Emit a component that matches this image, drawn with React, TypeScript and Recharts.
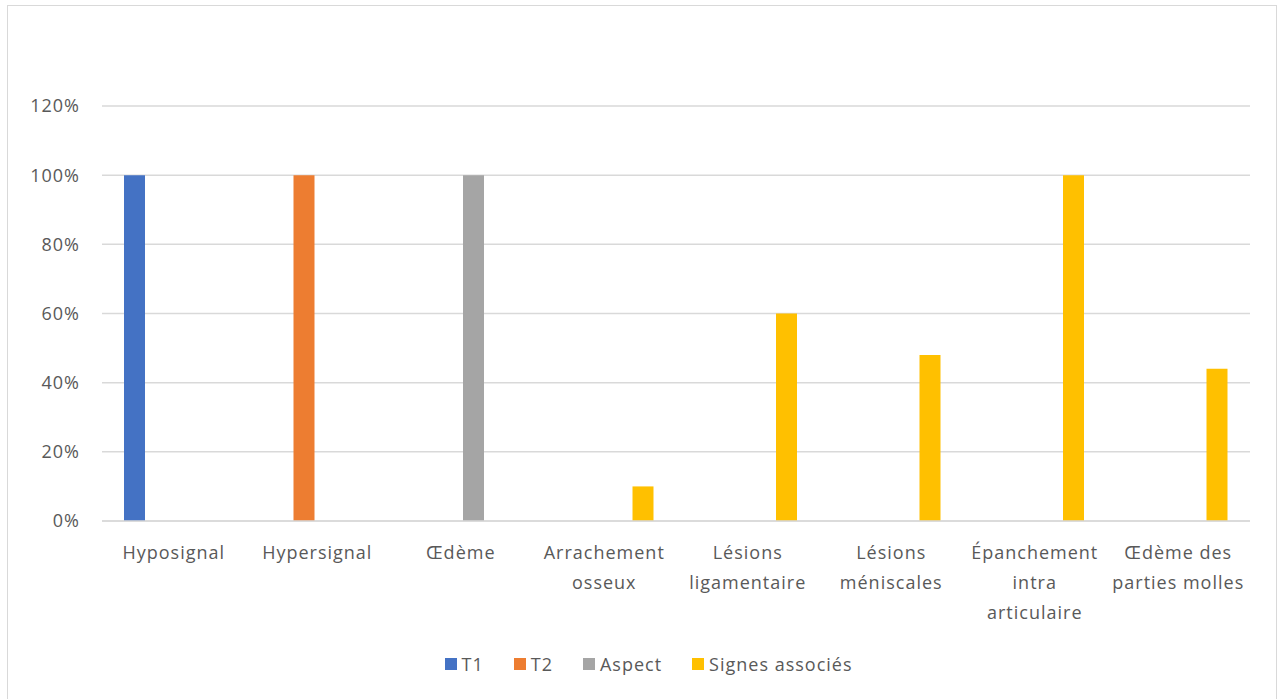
import { BarChart, Bar, XAxis, YAxis, CartesianGrid, Legend } from "recharts";

// Catégories (retour à la ligne = "\n")
const categories = [
  "Hyposignal",
  "Hypersignal",
  "Œdème",
  "Arrachement\nosseux",
  "Lésions\nligamentaire",
  "Lésions\nméniscales",
  "Épanchement\nintra\narticulaire",
  "Œdème des\nparties molles",
];

// Pourcentages par série (null = pas de barre)
const t1 = [100, null, null, null, null, null, null, null];
const t2 = [null, 100, null, null, null, null, null, null];
const aspect = [null, null, 100, null, null, null, null, null];
const signesAssocies = [null, null, null, 10, 60, 48, 100, 44];

const yTicks = [0, 20, 40, 60, 80, 100, 120];

const series = [
  { key: "t1", name: "T1", color: "#4472C4" },
  { key: "t2", name: "T2", color: "#ED7D31" },
  { key: "aspect", name: "Aspect", color: "#A5A5A5" },
  { key: "signes", name: "Signes associés", color: "#FFC000" },
];

const data = categories.map((c, i) => ({
  name: c,
  t1: t1[i],
  t2: t2[i],
  aspect: aspect[i],
  signes: signesAssocies[i],
}));

const FONT = "'Open Sans', sans-serif";
const TEXT = "#595959";
const FS = 18;
const LS = 1;

function CategoryTick(props: any) {
  const { x, y, payload } = props;
  const lines = String(payload.value).split("\n");
  return (
    <text
      x={x}
      y={y}
      textAnchor="middle"
      fill={TEXT}
      fontFamily={FONT}
      fontSize={FS}
      letterSpacing={LS}
    >
      {lines.map((l, i) => (
        <tspan key={i} x={x} dy={i === 0 ? 30 : 30}>
          {l}
        </tspan>
      ))}
    </text>
  );
}

function LegendBox() {
  return (
    <div
      style={{
        display: "flex",
        justifyContent: "center",
        gap: 30,
        fontFamily: FONT,
        fontSize: FS,
        letterSpacing: LS,
        color: TEXT,
        paddingLeft: 14,
      }}
    >
      {series.map((s) => (
        <div key={s.key} style={{ display: "flex", alignItems: "center", gap: 5 }}>
          <span style={{ width: 12, height: 12, background: s.color, display: "inline-block" }} />
          <span>{s.name}</span>
        </div>
      ))}
    </div>
  );
}

export default function App() {
  return (
    <div style={{ position: "absolute", left: 0, top: 0, width: 1283, height: 699, background: "#fff" }}>
      <div
        style={{
          position: "absolute",
          left: 7,
          top: 5,
          width: 1270,
          height: 700,
          border: "1px solid #d9d9d9",
          boxSizing: "border-box",
        }}
      />
      <BarChart
        width={1283}
        height={699}
        data={data}
        margin={{ top: 106, right: 33, bottom: 148, left: 42 }}
        barCategoryGap={22}
        barGap={5}
        style={{ position: "absolute", left: 0, top: 0 }}
      >
        <CartesianGrid vertical={false} stroke="#d9d9d9" strokeWidth={1.5} />
        <XAxis
          dataKey="name"
          interval={0}
          axisLine={{ stroke: "#d9d9d9", strokeWidth: 1.5 }}
          tickLine={false}
          tick={<CategoryTick />}
        />
        <YAxis
          width={60}
          domain={[0, 120]}
          ticks={yTicks}
          axisLine={false}
          tickLine={false}
          tickSize={0}
          tickMargin={22}
          tickFormatter={(v: number) => `${v}%`}
          tick={{ fill: TEXT, fontFamily: FONT, fontSize: FS, letterSpacing: LS }}
        />
        <Legend
          verticalAlign="middle"
          layout="horizontal"
          content={() => <LegendBox />}
          wrapperStyle={{ top: 652, left: 0, width: 1283 }}
        />
        {series.map((s) => (
          <Bar key={s.key} dataKey={s.key} name={s.name} fill={s.color} isAnimationActive={false} />
        ))}
      </BarChart>
    </div>
  );
}
